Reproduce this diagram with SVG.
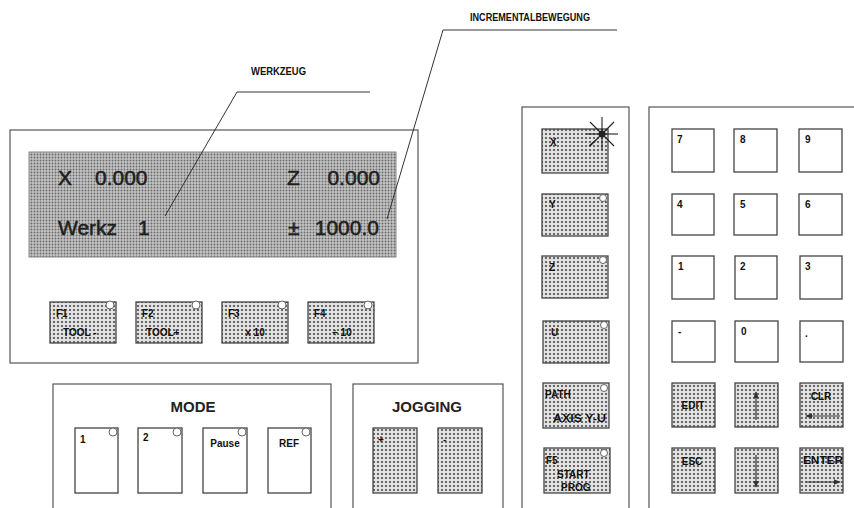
<svg xmlns="http://www.w3.org/2000/svg" width="854" height="508" viewBox="0 0 854 508">
<defs>
<pattern id="lcd" width="3" height="3" patternUnits="userSpaceOnUse">
<rect width="3" height="3" fill="#c4c4c4"/>
<circle cx="1.5" cy="1.5" r="0.95" fill="#6a6a6a"/>
</pattern>
<pattern id="dots" width="4" height="4" patternUnits="userSpaceOnUse">
<rect width="4" height="4" fill="#e2e2e2"/>
<circle cx="2" cy="2" r="1.1" fill="#4a4a4a"/>
</pattern>
<marker id="ah" viewBox="0 0 10 10" refX="9" refY="5" markerWidth="6" markerHeight="6" orient="auto-start-reverse">
<path d="M0,1 L10,5 L0,9 z" fill="#333"/>
</marker>
</defs>
<style>
.panel{fill:#fff;stroke:#555;stroke-width:1.2}
.key{fill:#fff;stroke:#444;stroke-width:1.3}
.dkey{fill:url(#dots);stroke:#444;stroke-width:1.3}
.led{fill:#fff;stroke:#666;stroke-width:1}
.lead{fill:none;stroke:#333;stroke-width:1}
.lbl{font-family:"Liberation Sans",Arial,sans-serif;font-weight:bold;font-size:10px;fill:#111}
.ttl{font-family:"Liberation Sans",Arial,sans-serif;font-weight:bold;font-size:15px;fill:#222}
.lcdt{font-family:"Liberation Sans",Arial,sans-serif;font-size:21px;fill:#1e1e1e;stroke:#1e1e1e;stroke-width:0.5}
.arr{stroke:#333;stroke-width:1.2;fill:none}
</style>
<rect width="854" height="508" fill="#fff"/>

<g id="label-werkzeug">
<text class="lbl" x="251" y="75" font-size="9" textLength="55" lengthAdjust="spacingAndGlyphs">WERKZEUG</text>
</g>
<g id="label-incremental">
<text class="lbl" x="470" y="21" font-size="9" textLength="120" lengthAdjust="spacingAndGlyphs">INCREMENTALBEWEGUNG</text>
</g>

<g id="display-panel">
<rect class="panel" x="10" y="130" width="408" height="233"/>
<rect x="29" y="152" width="367" height="105" fill="url(#lcd)" stroke="#888" stroke-width="1"/>
<text class="lcdt" x="58" y="185">X</text>
<text class="lcdt" x="95" y="185">0.000</text>
<text class="lcdt" x="287" y="185">Z</text>
<text class="lcdt" x="380" y="185" text-anchor="end">0.000</text>
<text class="lcdt" x="58" y="235" font-size="22">Werkz</text>
<text class="lcdt" x="138" y="235" font-size="22">1</text>
<text class="lcdt" x="288" y="235" font-size="17">±</text>
<text class="lcdt" x="379" y="235" text-anchor="end" font-size="22">1000.0</text>
</g>

<g id="key-f1">
<rect class="dkey" x="50" y="302" width="66" height="41"/>
<circle class="led" cx="110" cy="305" r="4"/>
<text class="lbl" x="56" y="317">F1</text>
<text class="lbl" x="63" y="336">TOOL -</text>
</g>
<g id="key-f2">
<rect class="dkey" x="136" y="302" width="66" height="41"/>
<circle class="led" cx="196" cy="305" r="4"/>
<text class="lbl" x="142" y="317">F2</text>
<text class="lbl" x="146" y="336">TOOL+</text>
</g>
<g id="key-f3">
<rect class="dkey" x="222" y="302" width="66" height="41"/>
<circle class="led" cx="282" cy="305" r="4"/>
<text class="lbl" x="228" y="317">F3</text>
<text class="lbl" x="255" y="336" text-anchor="middle">x 10</text>
</g>
<g id="key-f4">
<rect class="dkey" x="308" y="302" width="66" height="41"/>
<circle class="led" cx="368" cy="305" r="4"/>
<text class="lbl" x="314" y="317">F4</text>
<text class="lbl" x="342" y="336" text-anchor="middle">÷ 10</text>
</g>

<g id="mode-panel">
<rect class="panel" x="53" y="384" width="278" height="130"/>
<text class="ttl" x="193" y="412" text-anchor="middle">MODE</text>
</g>
<g id="key-mode-1">
<rect class="key" x="75" y="428" width="43" height="65"/>
<circle class="led" cx="113" cy="432" r="4"/>
<text class="lbl" x="80" y="443">1</text>
</g>
<g id="key-mode-2">
<rect class="key" x="138" y="428" width="44" height="65"/>
<circle class="led" cx="177" cy="432" r="4"/>
<text class="lbl" x="143" y="441">2</text>
</g>
<g id="key-mode-pause">
<rect class="key" x="203" y="428" width="44" height="65"/>
<circle class="led" cx="242" cy="432" r="4"/>
<text class="lbl" x="225" y="447" text-anchor="middle">Pause</text>
</g>
<g id="key-mode-ref">
<rect class="key" x="268" y="428" width="43" height="65"/>
<circle class="led" cx="306" cy="432" r="4"/>
<text class="lbl" x="289" y="447" text-anchor="middle" font-size="10.5">REF</text>
</g>

<g id="jogging-panel">
<rect class="panel" x="353" y="384" width="150" height="130"/>
<text class="ttl" x="427" y="412" text-anchor="middle">JOGGING</text>
</g>
<g id="key-jog-plus">
<rect class="dkey" x="373" y="428" width="44" height="65"/>
<text class="lbl" x="378" y="443">+</text>
</g>
<g id="key-jog-minus">
<rect class="dkey" x="438" y="428" width="44" height="65"/>
<text class="lbl" x="443" y="443">-</text>
</g>

<g id="axis-panel">
<rect class="panel" x="522" y="107" width="107" height="410"/>
</g>
<g id="key-x">
<rect class="dkey" x="542" y="129" width="66" height="44"/>
<text class="lbl" x="550" y="146">X</text>
<g stroke="#222" stroke-width="1.1">
<line x1="602" y1="117" x2="602" y2="150"/>
<line x1="586" y1="134" x2="618" y2="134"/>
<line x1="590" y1="122" x2="614" y2="146"/>
<line x1="614" y1="122" x2="590" y2="146"/>
<line x1="589" y1="146" x2="596" y2="140"/>
</g>
<circle cx="602" cy="134" r="3.5" fill="#222"/>
</g>
<g id="key-y">
<rect class="dkey" x="542" y="194" width="66" height="42"/>
<circle class="led" cx="603" cy="198" r="3.5"/>
<text class="lbl" x="549" y="208">Y</text>
</g>
<g id="key-z">
<rect class="dkey" x="542" y="256" width="66" height="42"/>
<circle class="led" cx="603" cy="260" r="3.5"/>
<text class="lbl" x="549" y="271">Z</text>
</g>
<g id="key-u">
<rect class="dkey" x="543" y="321" width="66" height="42"/>
<circle class="led" cx="604" cy="325" r="3.5"/>
<text class="lbl" x="551" y="336">U</text>
</g>
<g id="key-path">
<rect class="dkey" x="543" y="383" width="66" height="45"/>
<circle class="led" cx="604" cy="388" r="3.5"/>
<text class="lbl" x="545" y="398">PATH</text>
<text class="lbl" x="553" y="422" textLength="53" lengthAdjust="spacingAndGlyphs">AXIS Y-U</text>
</g>
<g id="key-f5">
<rect class="dkey" x="544" y="448" width="66" height="45"/>
<circle class="led" cx="604" cy="453" r="3.5"/>
<text class="lbl" x="546" y="464">F5</text>
<text class="lbl" x="557" y="478">START</text>
<text class="lbl" x="561" y="491">PROG</text>
</g>

<g id="keypad-panel">
<rect class="panel" x="649" y="107" width="220" height="410"/>
</g>
<g id="key-7"><rect class="key" x="672" y="129" width="42" height="43"/><text class="lbl" x="677" y="143">7</text></g>
<g id="key-8"><rect class="key" x="734" y="129" width="43" height="43"/><text class="lbl" x="740" y="143">8</text></g>
<g id="key-9"><rect class="key" x="799" y="129" width="43" height="43"/><text class="lbl" x="805" y="143">9</text></g>
<g id="key-4"><rect class="key" x="672" y="194" width="42" height="41"/><text class="lbl" x="677" y="208">4</text></g>
<g id="key-5"><rect class="key" x="734" y="194" width="43" height="41"/><text class="lbl" x="740" y="208">5</text></g>
<g id="key-6"><rect class="key" x="799" y="194" width="43" height="41"/><text class="lbl" x="805" y="208">6</text></g>
<g id="key-1"><rect class="key" x="672" y="256" width="42" height="43"/><text class="lbl" x="678" y="270">1</text></g>
<g id="key-2"><rect class="key" x="735" y="256" width="42" height="43"/><text class="lbl" x="740" y="270">2</text></g>
<g id="key-3"><rect class="key" x="800" y="256" width="42" height="43"/><text class="lbl" x="805" y="270">3</text></g>
<g id="key-minus"><rect class="key" x="672" y="321" width="43" height="41"/><text class="lbl" x="678" y="335">-</text></g>
<g id="key-0"><rect class="key" x="735" y="321" width="43" height="41"/><text class="lbl" x="741" y="335">0</text></g>
<g id="key-dot"><rect class="key" x="800" y="321" width="43" height="41"/><text class="lbl" x="805" y="337">.</text></g>
<g id="key-edit"><rect class="dkey" x="672" y="383" width="43" height="44"/><text class="lbl" x="693" y="409" text-anchor="middle">EDIT</text></g>
<g id="key-up"><rect class="dkey" x="735" y="383" width="43" height="44"/><line class="arr" x1="756" y1="420" x2="756" y2="392" marker-end="url(#ah)"/></g>
<g id="key-clr"><rect class="dkey" x="800" y="383" width="43" height="44"/><text class="lbl" x="821" y="400" text-anchor="middle">CLR</text><line class="arr" x1="840" y1="416" x2="806" y2="416" marker-end="url(#ah)"/></g>
<g id="key-esc"><rect class="dkey" x="672" y="448" width="43" height="45"/><text class="lbl" x="692" y="465" text-anchor="middle">ESC</text></g>
<g id="key-down"><rect class="dkey" x="735" y="448" width="43" height="45"/><line class="arr" x1="756" y1="455" x2="756" y2="487" marker-end="url(#ah)"/></g>
<g id="key-enter"><rect class="dkey" x="800" y="448" width="43" height="45"/><text class="lbl" x="803" y="464" textLength="40" lengthAdjust="spacingAndGlyphs">ENTER</text><line class="arr" x1="806" y1="482" x2="840" y2="482" marker-end="url(#ah)"/></g>

<g id="connectors">
<polyline class="lead" points="370,92 237,92 165,216"/>
<polyline class="lead" points="617,30 443,30 387,219"/>
</g>
</svg>
